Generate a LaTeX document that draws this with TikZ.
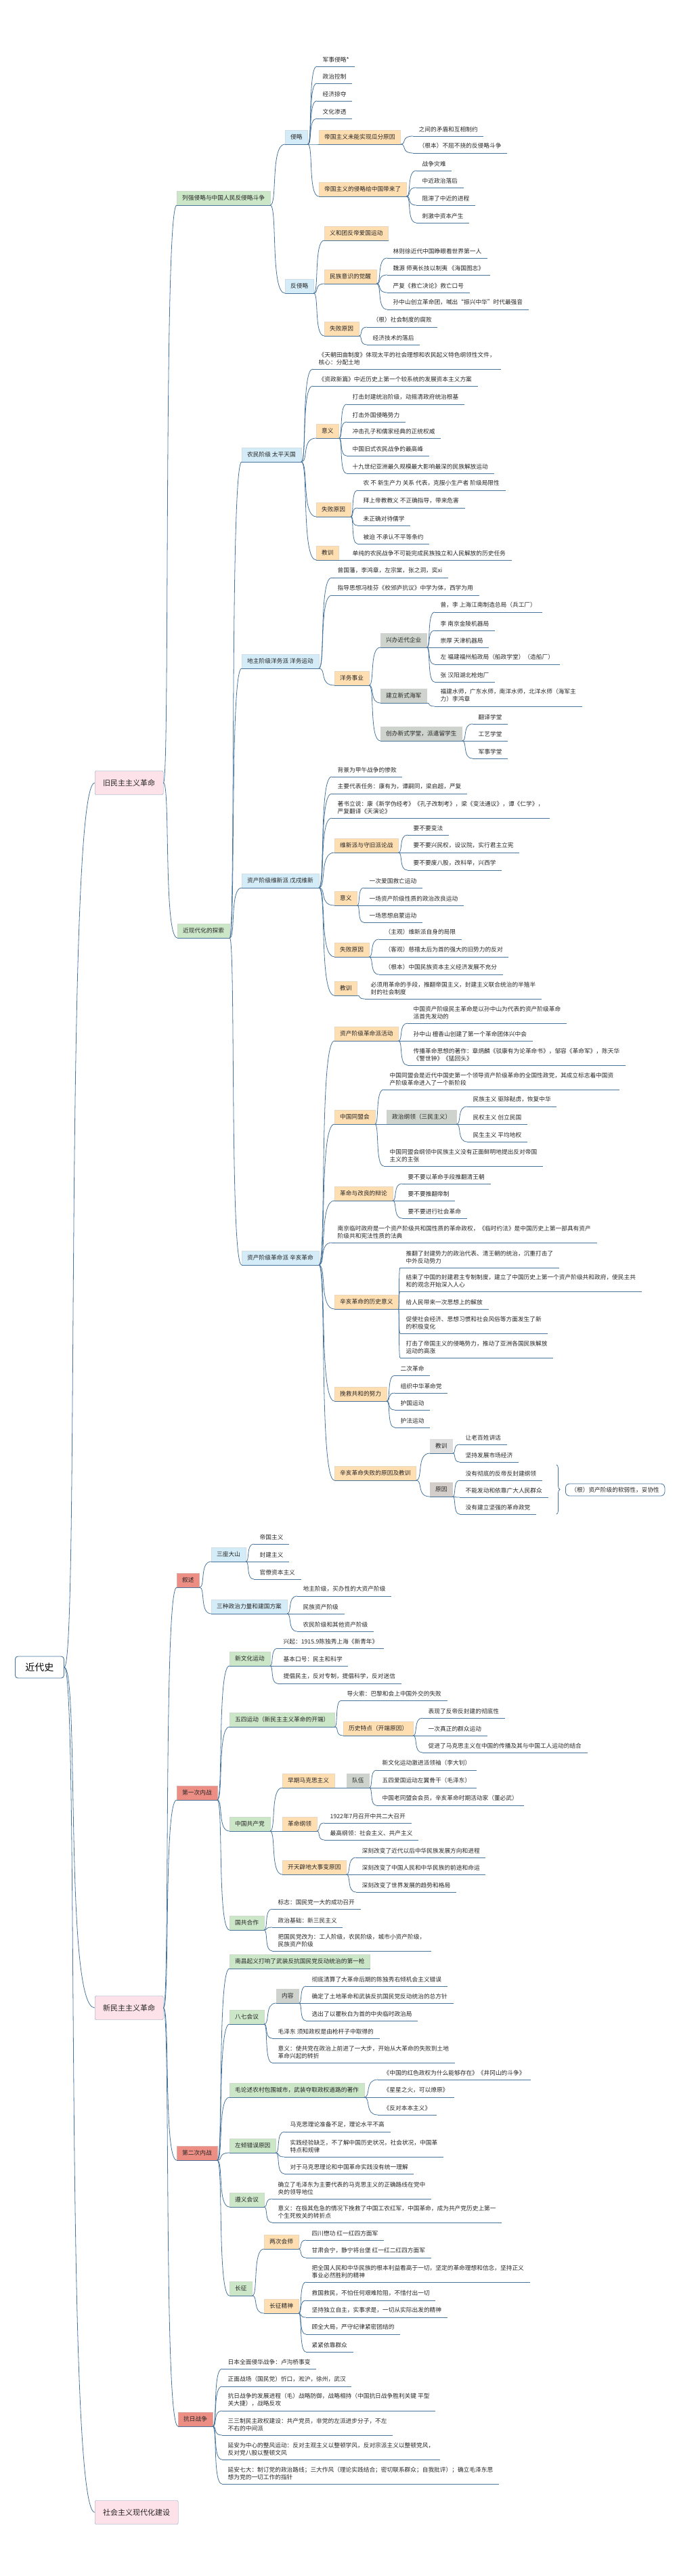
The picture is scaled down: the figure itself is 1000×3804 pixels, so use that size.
\documentclass[tikz,border=0pt]{standalone}
\usepackage{fontspec}
\setmainfont{Noto Sans CJK SC}
\usetikzlibrary{calc,decorations.pathreplacing}
\definecolor{linecol}{RGB}{72,116,156}
\definecolor{pinkfill}{RGB}{253,226,233}
\definecolor{greenfill}{RGB}{204,230,200}
\definecolor{bluefill}{RGB}{212,236,247}
\definecolor{orangefill}{RGB}{255,222,178}
\definecolor{grayfill}{RGB}{206,211,205}
\definecolor{lightgrayfill}{RGB}{222,222,222}
\definecolor{warmgrayfill}{RGB}{212,206,202}
\definecolor{redfill}{RGB}{236,142,132}

\begin{document}
\begin{tikzpicture}[x=1pt,y=-1pt,
    link/.style={draw=linecol, line width=0.8pt,
      to path={.. controls ($(\tikztostart)!0.5!(\tikztostart-|\tikztotarget)$) and (\tikztostart|-\tikztotarget) .. (\tikztotarget)}},
    uline/.style={draw=linecol, line width=0.8pt},
    leaf/.style={anchor=south west, inner xsep=8.5pt, inner ysep=6pt, align=left,
      text=black!85, font=\fontsize{8.7}{11}\selectfont,
      append after command={(\tikzlastnode.south west) edge[uline] (\tikzlastnode.south east)}},
    tbox/.style={leaf, inner xsep=8pt, inner ysep=3pt, minimum height=21pt},
    gbox/.style={tbox, fill=greenfill, draw=greenfill!85!black!60},
    bbox/.style={tbox, fill=bluefill, draw=bluefill!85!black!60},
    obox/.style={tbox, fill=orangefill, draw=orangefill!85!black!60},
    hbox/.style={tbox, fill=grayfill, draw=grayfill!85!black!60},
    rbox/.style={tbox, fill=redfill, draw=redfill!85!black!60},
    topic/.style={anchor=west, fill=pinkfill, draw=linecol!70, rounded corners=2pt,
      minimum height=35pt, inner xsep=12pt, font=\fontsize{11}{13}\selectfont, text=black!85}
  ]
    \useasboundingbox (0,0) rectangle (1000,3804);

    % 中心主题
    \node[anchor=west, draw=linecol, line width=0.9pt, fill=white, rounded corners=4pt,
      minimum height=32pt, inner xsep=15pt, font=\fontsize{14}{16}\selectfont] (jds) at (22,2462) {近代史};

    % 一级主题
    \node[topic] (jiu) at (140,1156) {旧民主主义革命};
    \node[topic] (xin) at (140,2965) {新民主主义革命};
    \node[topic] (she) at (140,3710) {社会主义现代化建设};
    \foreach \t in {jiu,xin,she} \draw[link] (jds.east) to (\t.west);

    % 旧民主主义革命
    \node[gbox] (liqiang) at (261,303) {列强侵略与中国人民反侵略斗争};
    \node[gbox] (tansuo) at (262,1385) {近现代化的探索};
    \foreach \t in {liqiang,tansuo} \draw[link] (jiu.east) to (\t.south west);

    % 侵略与反侵略
    \node[bbox] (qinlue) at (421,213) {侵略};
    \node[bbox] (fanqin) at (421,433) {反侵略};
    \foreach \t in {qinlue,fanqin} \draw[link] (liqiang.south east) to (\t.south west);

    \node[leaf] (ql1) at (468,98) {军事侵略*};
    \node[leaf] (ql2) at (468,123) {政治控制};
    \node[leaf] (ql3) at (468,149) {经济掠夺};
    \node[leaf] (ql4) at (468,175) {文化渗透};
    \node[obox] (guafen) at (471,213) {帝国主义未能实现瓜分原因};
    \node[obox] (dailai) at (471,290) {帝国主义的侵略给中国带来了};
    \foreach \t in {ql1,ql2,ql3,ql4,guafen,dailai} \draw[link] (qinlue.south east) to (\t.south west);

    \node[leaf] (gf1) at (610,201) {之间的矛盾和互相制约};
    \node[leaf] (gf2) at (610,226) {（根本）不屈不挠的反侵略斗争};
    \foreach \t in {gf1,gf2} \draw[link] (guafen.south east) to (\t.south west);

    \node[leaf] (dl1) at (615,252) {战争灾难};
    \node[leaf] (dl2) at (615,277) {中近政治落后};
    \node[leaf] (dl3) at (615,303) {阻滞了中近的进程};
    \node[leaf] (dl4) at (615,329) {刺激中资本产生};
    \foreach \t in {dl1,dl2,dl3,dl4} \draw[link] (dailai.south east) to (\t.south west);

    \node[obox] (yihetuan) at (479,355) {义和团反帝爱国运动};
    \node[obox] (juexing) at (479,419) {民族意识的觉醒};
    \node[obox] (shibai) at (479,496) {失败原因};
    \foreach \t in {yihetuan,juexing,shibai} \draw[link] (fanqin.south east) to (\t.south west);

    \node[leaf] (jx1) at (572,381) {林则徐近代中国睁眼看世界第一人};
    \node[leaf] (jx2) at (572,406) {魏源 师夷长技以制夷 《海国图志》};
    \node[leaf] (jx3) at (572,432) {严复《救亡决论》救亡口号};
    \node[leaf] (jx4) at (572,457) {孙中山创立革命团，喊出“振兴中华”时代最强音};
    \foreach \t in {jx1,jx2,jx3,jx4} \draw[link] (juexing.south east) to (\t.south west);

    \node[leaf] (sb1) at (542,483) {（根）社会制度的腐败};
    \node[leaf] (sb2) at (542,509) {经济技术的落后};
    \foreach \t in {sb1,sb2} \draw[link] (shibai.south east) to (\t.south west);

    % 近现代化的探索
    \node[bbox] (taiping) at (357,682) {农民阶级 太平天国};
    \node[bbox] (yangwu) at (357,987) {地主阶级洋务派 洋务运动};
    \node[bbox] (wuxu) at (357,1311) {资产阶级维新派 戊戌维新};
    \node[bbox] (xinhai) at (357,1868) {资产阶级革命派 辛亥革命};
    \foreach \t in {taiping,yangwu,wuxu,xinhai} \draw[link] (tansuo.south east) to (\t.south west);

    % 太平天国
    \node[leaf] (tp1) at (462,545) {《天朝田亩制度》体现太平的社会理想和农民起义特色纲领性文件，\\核心：分配土地};
    \node[leaf] (tp2) at (462,570) {《资政新篇》中近历史上第一个较系统的发展资本主义方案};
    \node[obox] (tpyiyi) at (467,647) {意义};
    \node[obox] (tpshibai) at (467,763) {失败原因};
    \node[obox] (tpjiaoxun) at (467,827) {教训};
    \foreach \t in {tp1,tp2,tpyiyi,tpshibai,tpjiaoxun} \draw[link] (taiping.south east) to (\t.south west);

    \node[leaf] (ty1) at (512,597) {打击封建统治阶级，动摇清政府统治根基};
    \node[leaf] (ty2) at (512,623) {打击外国侵略势力};
    \node[leaf] (ty3) at (512,647) {冲击孔子和儒家经典的正统权威};
    \node[leaf] (ty4) at (512,673) {中国旧式农民战争的最高峰};
    \node[leaf] (ty5) at (512,699) {十九世纪亚洲最久规模最大影响最深的民族解放运动};
    \foreach \t in {ty1,ty2,ty3,ty4,ty5} \draw[link] (tpyiyi.south east) to (\t.south west);

    \node[leaf] (ts1) at (528,724) {农 不 新生产力 关系 代表，克服小生产者 阶级局限性};
    \node[leaf] (ts2) at (528,750) {拜上帝教教义 不正确指导，带来危害};
    \node[leaf] (ts3) at (528,776) {未正确对待儒学};
    \node[leaf] (ts4) at (528,803) {被迫 不承认不平等条约};
    \foreach \t in {ts1,ts2,ts3,ts4} \draw[link] (tpshibai.south east) to (\t.south west);

    \node[leaf] (tj1) at (512,827) {单纯的农民战争不可能完成民族独立和人民解放的历史任务};
    \draw[link] (tpjiaoxun.south east) to (tj1.south west);

    % 洋务运动
    \node[leaf] (yw1) at (490,853) {曾国藩，李鸿章，左宗棠，张之洞，奕xi};
    \node[leaf] (yw2) at (490,879) {指导思想冯桂芬《校邠庐抗议》中学为体，西学为用};
    \node[obox] (shiye) at (494,1012) {洋务事业};
    \foreach \t in {yw1,yw2,shiye} \draw[link] (yangwu.south east) to (\t.south west);

    \node[hbox] (qiye) at (562,956) {兴办近代企业};
    \node[hbox] (haijun) at (562,1038) {建立新式海军};
    \node[hbox] (xuetang) at (562,1094) {创办新式学堂，派遣留学生};
    \foreach \t in {qiye,haijun,xuetang} \draw[link] (shiye.south east) to (\t.south west);

    \node[leaf] (qy1) at (642,904) {曾，李 上海江南制造总局（兵工厂）};
    \node[leaf] (qy2) at (642,931) {李 南京金陵机器局};
    \node[leaf] (qy3) at (642,956) {崇厚 天津机器局};
    \node[leaf] (qy4) at (642,981) {左 福建福州船政局（船政学堂）（造船厂）};
    \node[leaf] (qy5) at (642,1007) {张 汉阳湖北枪炮厂};
    \foreach \t in {qy1,qy2,qy3,qy4,qy5} \draw[link] (qiye.south east) to (\t.south west);

    \node[leaf] (hj1) at (642,1043) {福建水师，广东水师，南洋水师，北洋水师（海军主\\力）李鸿章};
    \draw[link] (haijun.south east) to (hj1.south west);

    \node[leaf] (xt1) at (698,1069) {翻译学堂};
    \node[leaf] (xt2) at (698,1094) {工艺学堂};
    \node[leaf] (xt3) at (698,1120) {军事学堂};
    \foreach \t in {xt1,xt2,xt3} \draw[link] (xuetang.south east) to (\t.south west);

    % 戊戌维新
    \node[leaf] (wx1) at (490,1147) {背景为甲午战争的惨败};
    \node[leaf] (wx2) at (490,1172) {主要代表任务：康有为，谭嗣同，梁启超，严复};
    \node[leaf] (wx3) at (490,1208) {著书立说：康《新学伪经考》《孔子改制考》，梁《变法通议》，谭《仁学》，\\严复翻译《天演论》};
    \node[obox] (lunzhan) at (494,1259) {维新派与守旧派论战};
    \node[obox] (wxyiyi) at (494,1337) {意义};
    \node[obox] (wxshibai) at (494,1413) {失败原因};
    \node[obox] (wxjiaoxun) at (494,1470) {教训};
    \foreach \t in {wx1,wx2,wx3,lunzhan,wxyiyi,wxshibai,wxjiaoxun} \draw[link] (wuxu.south east) to (\t.south west);

    \node[leaf] (lz1) at (602,1233) {要不要变法};
    \node[leaf] (lz2) at (602,1259) {要不要兴民权，设议院，实行君主立宪};
    \node[leaf] (lz3) at (602,1285) {要不要废八股，改科举，兴西学};
    \foreach \t in {lz1,lz2,lz3} \draw[link] (lunzhan.south east) to (\t.south west);

    \node[leaf] (wy1) at (537,1311) {一次爱国救亡运动};
    \node[leaf] (wy2) at (537,1337) {一场资产阶级性质的政治改良运动};
    \node[leaf] (wy3) at (537,1362) {一场思想启蒙运动};
    \foreach \t in {wy1,wy2,wy3} \draw[link] (wxyiyi.south east) to (\t.south west);

    \node[leaf] (wsb1) at (560,1387) {（主观）维新派自身的局限};
    \node[leaf] (wsb2) at (560,1413) {（客观）慈禧太后为首的强大的旧势力的反对};
    \node[leaf] (wsb3) at (560,1439) {（根本）中国民族资本主义经济发展不充分};
    \foreach \t in {wsb1,wsb2,wsb3} \draw[link] (wxshibai.south east) to (\t.south west);

    \node[leaf] (wjx1) at (539,1475) {必须用革命的手段，推翻帝国主义，封建主义联合统治的半殖半\\封的社会制度};
    \draw[link] (wxjiaoxun.south east) to (wjx1.south west);

    % 辛亥革命
    \node[obox] (huodong) at (494,1537) {资产阶级革命派活动};
    \node[obox] (tongmeng) at (494,1660) {中国同盟会};
    \node[obox] (bianlun) at (494,1773) {革命与改良的辩论};
    \node[leaf] (xh1) at (490,1835) {南京临时政府是一个资产阶级共和国性质的革命政权，《临时约法》是中国历史上第一部具有资产\\阶级共和宪法性质的法典};
    \node[obox] (xhyiyi) at (494,1933) {辛亥革命的历史意义};
    \node[obox] (wanjiu) at (494,2069) {挽救共和的努力};
    \node[obox] (xhshibai) at (494,2186) {辛亥革命失败的原因及教训};
    \foreach \t in {huodong,tongmeng,bianlun,xh1,xhyiyi,wanjiu,xhshibai} \draw[link] (xinhai.south east) to (\t.south west);

    \node[leaf] (hd1) at (602,1511) {中国资产阶级民主革命是以孙中山为代表的资产阶级革命\\派首先发动的};
    \node[leaf] (hd2) at (602,1537) {孙中山 檀香山创建了第一个革命团体兴中会};
    \node[leaf] (hd3) at (602,1573) {传播革命思想的著作：章炳麟《驳康有为论革命书》，邹容《革命军》，陈天华\\《警世钟》《猛回头》};
    \foreach \t in {hd1,hd2,hd3} \draw[link] (huodong.south east) to (\t.south west);

    \node[leaf] (tm1) at (567,1609) {中国同盟会是近代中国史第一个领导资产阶级革命的全国性政党，其成立标志着中国资\\产阶级革命进入了一个新阶段};
    \node[hbox] (gangling) at (571,1660) {政治纲领（三民主义）};
    \node[leaf] (tm2) at (567,1722) {中国同盟会纲领中民族主义没有正面鲜明地提出反对帝国\\主义的主张};
    \foreach \t in {tm1,gangling,tm2} \draw[link] (tongmeng.south east) to (\t.south west);

    \node[leaf] (gl1) at (690,1634) {民族主义 驱除鞑虏，恢复中华};
    \node[leaf] (gl2) at (690,1660) {民权主义 创立民国};
    \node[leaf] (gl3) at (690,1686) {民生主义 平均地权};
    \foreach \t in {gl1,gl2,gl3} \draw[link] (gangling.south east) to (\t.south west);

    \node[leaf] (bl1) at (594,1748) {要不要以革命手段推翻清王朝};
    \node[leaf] (bl2) at (594,1773) {要不要推翻帝制};
    \node[leaf] (bl3) at (594,1799) {要不要进行社会革命};
    \foreach \t in {bl1,bl2,bl3} \draw[link] (bianlun.south east) to (\t.south west);

    \node[leaf] (xy1) at (591,1872) {推翻了封建势力的政治代表、清王朝的统治，沉重打击了\\中外反动势力};
    \node[leaf] (xy2) at (591,1907) {结束了中国的封建君主专制制度，建立了中国历史上第一个资产阶级共和政府，使民主共\\和的观念开始深入人心};
    \node[leaf] (xy3) at (591,1933) {给人民带来一次思想上的解放};
    \node[leaf] (xy4) at (591,1969) {促使社会经济、思想习惯和社会风俗等方面发生了新\\的积极变化};
    \node[leaf] (xy5) at (591,2005) {打击了帝国主义的侵略势力，推动了亚洲各国民族解放\\运动的高涨};
    \foreach \t in {xy1,xy2,xy3,xy4,xy5} \draw[link] (xhyiyi.south east) to (\t.south west);

    \node[leaf] (wq1) at (583,2031) {二次革命};
    \node[leaf] (wq2) at (583,2057) {组织中华革命党};
    \node[leaf] (wq3) at (583,2082) {护国运动};
    \node[leaf] (wq4) at (583,2108) {护法运动};
    \foreach \t in {wq1,wq2,wq3,wq4} \draw[link] (wanjiu.south east) to (\t.south west);

    \node[tbox, fill=lightgrayfill] (xhjx) at (635,2146) {教训};
    \node[tbox, fill=warmgrayfill] (xhyy) at (635,2210) {原因};
    \foreach \t in {xhjx,xhyy} \draw[link] (xhshibai.south east) to (\t.south west);

    \node[leaf] (xj1) at (679,2133) {让老百姓讲话};
    \node[leaf] (xj2) at (679,2159) {坚持发展市场经济};
    \foreach \t in {xj1,xj2} \draw[link] (xhjx.south east) to (\t.south west);

    \node[leaf] (xr1) at (679,2186) {没有彻底的反帝反封建纲领};
    \node[leaf] (xr2) at (679,2211) {不能发动和依靠广大人民群众};
    \node[leaf] (xr3) at (679,2236) {没有建立坚强的革命政党};
    \foreach \t in {xr1,xr2,xr3} \draw[link] (xhyy.south east) to (\t.south west);

    % 概要
    \draw[linecol, line width=0.8pt, decorate, decoration={brace, amplitude=5pt}] (822,2163) -- (822,2236);
    \node[anchor=west, draw=linecol, line width=0.8pt, rounded corners=6pt, fill=white, inner xsep=8pt,
      minimum height=18pt, font=\fontsize{8.7}{11}\selectfont, text=black!85] (gen) at (835,2200) {（根）资产阶级的软弱性，妥协性};

    % 新民主主义革命
    \node[rbox] (xushu) at (261,2344) {叙述};
    \node[rbox] (neizhan1) at (261,2658) {第一次内战};
    \node[rbox] (neizhan2) at (261,3190) {第二次内战};
    \node[rbox] (kangri) at (263,3583) {抗日战争};
    \foreach \t in {xushu,neizhan1,neizhan2,kangri} \draw[link] (xin.east) to (\t.south west);

    % 叙述
    \node[bbox] (sanzuo) at (312,2306) {三座大山};
    \node[bbox] (sanzhong) at (312,2383) {三种政治力量和建国方案};
    \foreach \t in {sanzuo,sanzhong} \draw[link] (xushu.south east) to (\t.south west);

    \node[leaf] (sz1) at (375,2280) {帝国主义};
    \node[leaf] (sz2) at (375,2306) {封建主义};
    \node[leaf] (sz3) at (375,2332) {官僚资本主义};
    \foreach \t in {sz1,sz2,sz3} \draw[link] (sanzuo.south east) to (\t.south west);

    \node[leaf] (sx1) at (439,2357) {地主阶级，买办性的大资产阶级};
    \node[leaf] (sx2) at (439,2383) {民族资产阶级};
    \node[leaf] (sx3) at (439,2409) {农民阶级和其他资产阶级};
    \foreach \t in {sx1,sx2,sx3} \draw[link] (sanzhong.south east) to (\t.south west);

    % 第一次内战
    \node[gbox] (xwh) at (339,2460) {新文化运动};
    \node[gbox] (wusi) at (339,2550) {五四运动（新民主主义革命的开端）};
    \node[gbox] (gcd) at (339,2704) {中国共产党};
    \node[gbox] (guogong) at (339,2850) {国共合作};
    \foreach \t in {xwh,wusi,gcd,guogong} \draw[link] (neizhan1.south east) to (\t.south west);

    \node[leaf] (xw1) at (410,2434) {兴起：1915.9陈独秀上海《新青年》};
    \node[leaf] (xw2) at (410,2460) {基本口号：民主和科学};
    \node[leaf] (xw3) at (410,2486) {提倡民主，反对专制，提倡科学，反对迷信};
    \foreach \t in {xw1,xw2,xw3} \draw[link] (xwh.south east) to (\t.south west);

    \node[leaf] (wsi1) at (504,2511) {导火索：巴黎和会上中国外交的失败};
    \node[obox] (tedian) at (507,2563) {历史特点（开端原因）};
    \foreach \t in {wsi1,tedian} \draw[link] (wusi.south east) to (\t.south west);

    \node[leaf] (td1) at (624,2537) {表现了反帝反封建的彻底性};
    \node[leaf] (td2) at (624,2563) {一次真正的群众运动};
    \node[leaf] (td3) at (624,2588) {促进了马克思主义在中国的传播及其与中国工人运动的结合};
    \foreach \t in {td1,td2,td3} \draw[link] (tedian.south east) to (\t.south west);

    \node[obox] (zaoqi) at (417,2640) {早期马克思主义};
    \node[obox] (gmgl) at (417,2704) {革命纲领};
    \node[obox] (kaitian) at (417,2768) {开天辟地大事变原因};
    \foreach \t in {zaoqi,gmgl,kaitian} \draw[link] (gcd.south east) to (\t.south west);

    \node[hbox] (duiwu) at (512,2640) {队伍};
    \draw[link] (zaoqi.south east) to (duiwu.south west);
    \node[leaf] (dw1) at (556,2614) {新文化运动激进派领袖（李大钊）};
    \node[leaf] (dw2) at (556,2640) {五四爱国运动左翼骨干（毛泽东）};
    \node[leaf] (dw3) at (556,2666) {中国老同盟会会员，辛亥革命时期活动家（董必武）};
    \foreach \t in {dw1,dw2,dw3} \draw[link] (duiwu.south east) to (\t.south west);

    \node[leaf] (gm1) at (479,2692) {1922年7月召开中共二大召开};
    \node[leaf] (gm2) at (479,2717) {最高纲领：社会主义、共产主义};
    \foreach \t in {gm1,gm2} \draw[link] (gmgl.south east) to (\t.south west);

    \node[leaf] (kt1) at (526,2743) {深刻改变了近代以后中华民族发展方向和进程};
    \node[leaf] (kt2) at (526,2768) {深刻改变了中国人民和中华民族的前途和命运};
    \node[leaf] (kt3) at (526,2794) {深刻改变了世界发展的趋势和格局};
    \foreach \t in {kt1,kt2,kt3} \draw[link] (kaitian.south east) to (\t.south west);

    \node[leaf] (gg1) at (402,2819) {标志：国民党一大的成功召开};
    \node[leaf] (gg2) at (402,2846) {政治基础：新三民主义};
    \node[leaf] (gg3) at (402,2881) {把国民党改为：工人阶级，农民阶级，城市小资产阶级，\\民族资产阶级};
    \foreach \t in {gg1,gg2,gg3} \draw[link] (guogong.south east) to (\t.south west);

    % 第二次内战
    \node[gbox] (nanchang) at (339,2907) {南昌起义打响了武装反抗国民党反动统治的第一枪};
    \node[gbox] (baqi) at (339,2989) {八七会议};
    \node[gbox] (maolun) at (339,3097) {毛论述农村包围城市，武装夺取政权道路的著作};
    \node[gbox] (zuoqing) at (339,3179) {左倾错误原因};
    \node[gbox] (zunyi) at (339,3259) {遵义会议};
    \node[gbox] (changzheng) at (339,3390) {长征};
    \foreach \t in {nanchang,baqi,maolun,zuoqing,zunyi,changzheng} \draw[link] (neizhan2.south east) to (\t.south west);

    \node[hbox] (neirong) at (408,2958) {内容};
    \node[leaf] (bq1) at (402,3010) {毛泽东 须知政权是由枪杆子中取得的};
    \node[leaf] (bq2) at (402,3046) {意义：使共党在政治上前进了一大步，开始从大革命的失败到土地\\革命兴起的转折};
    \foreach \t in {neirong,bq1,bq2} \draw[link] (baqi.south east) to (\t.south west);

    \node[leaf] (nr1) at (452,2933) {彻底清算了大革命后期的陈独秀右倾机会主义错误};
    \node[leaf] (nr2) at (452,2958) {确定了土地革命和武装反抗国民党反动统治的总方针};
    \node[leaf] (nr3) at (452,2984) {选出了以瞿秋白为首的中央临时政治局};
    \foreach \t in {nr1,nr2,nr3} \draw[link] (neirong.south east) to (\t.south west);

    \node[leaf] (ml1) at (558,3071) {《中国的红色政权为什么能够存在》《井冈山的斗争》};
    \node[leaf] (ml2) at (558,3097) {《星星之火，可以燎原》};
    \node[leaf] (ml3) at (558,3123) {《反对本本主义》};
    \foreach \t in {ml1,ml2,ml3} \draw[link] (maolun.south east) to (\t.south west);

    \node[leaf] (zq1) at (420,3148) {马克思理论准备不足，理论水平不高};
    \node[leaf] (zq2) at (420,3185) {实践经验缺乏，不了解中国历史状况，社会状况，中国革\\特点和规律};
    \node[leaf] (zq3) at (420,3210) {对于马克思理论和中国革命实践没有统一理解};
    \foreach \t in {zq1,zq2,zq3} \draw[link] (zuoqing.south east) to (\t.south west);

    \node[leaf] (zy1) at (402,3247) {确立了毛泽东为主要代表的马克思主义的正确路线在党中\\央的领导地位};
    \node[leaf] (zy2) at (402,3282) {意义：在极其危急的情况下挽救了中国工农红军，中国革命，成为共产党历史上第一\\个生死攸关的转折点};
    \foreach \t in {zy1,zy2} \draw[link] (zunyi.south east) to (\t.south west);

    \node[obox] (huishi) at (390,3321) {两次会师};
    \node[obox] (jingshen) at (390,3416) {长征精神};
    \foreach \t in {huishi,jingshen} \draw[link] (changzheng.south east) to (\t.south west);

    \node[leaf] (hs1) at (452,3308) {四川懋功 红一红四方面军};
    \node[leaf] (hs2) at (452,3334) {甘肃会宁，静宁将台堡 红一红二红四方面军};
    \foreach \t in {hs1,hs2} \draw[link] (huishi.south east) to (\t.south west);

    \node[leaf] (js1) at (452,3370) {把全国人民和中华民族的根本利益看高于一切，坚定的革命理想和信念，坚持正义\\事业必然胜利的精神};
    \node[leaf] (js2) at (452,3397) {救国救民，不怕任何艰难险阻，不惜付出一切};
    \node[leaf] (js3) at (452,3422) {坚持独立自主，实事求是，一切从实际出发的精神};
    \node[leaf] (js4) at (452,3447) {顾全大局，严守纪律紧密团结的};
    \node[leaf] (js5) at (452,3473) {紧紧依靠群众};
    \foreach \t in {js1,js2,js3,js4,js5} \draw[link] (jingshen.south east) to (\t.south west);

    % 抗日战争
    \node[leaf] (kr1) at (328,3498) {日本全面侵华战争：卢沟桥事变};
    \node[leaf] (kr2) at (328,3524) {正面战场（国民党）忻口，淞沪，徐州，武汉};
    \node[leaf] (kr3) at (328,3560) {抗日战争的发展进程（毛）战略防御，战略相持（中国抗日战争胜利关键 平型\\关大捷），战略反攻};
    \node[leaf] (kr4) at (328,3596) {三三制民主政权建设：共产党员，非党的左派进步分子，不左\\不右的中间派};
    \node[leaf] (kr5) at (328,3632) {延安为中心的整风运动：反对主观主义以整顿学风，反对宗派主义以整顿党风，\\反对党八股以整顿文风};
    \node[leaf] (kr6) at (328,3668) {延安七大：制订党的政治路线；三大作风（理论实践结合；密切联系群众；自我批评）；确立毛泽东思\\想为党的一切工作的指针};
    \foreach \t in {kr1,kr2,kr3,kr4,kr5,kr6} \draw[link] (kangri.south east) to (\t.south west);
\end{tikzpicture}
\end{document}
